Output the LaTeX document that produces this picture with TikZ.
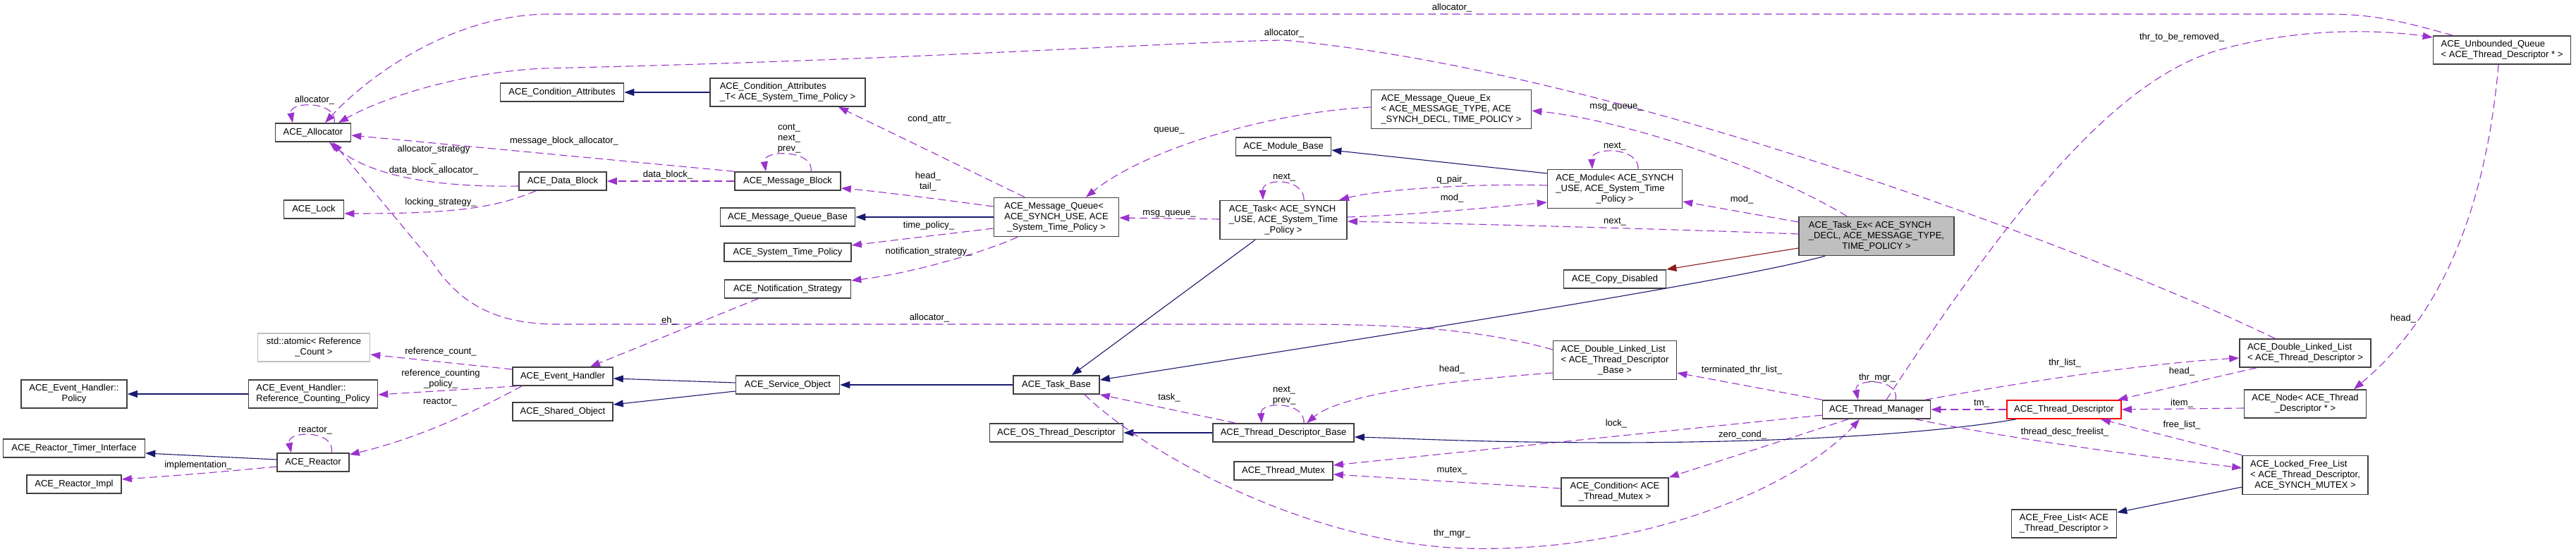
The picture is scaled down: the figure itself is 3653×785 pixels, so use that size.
\documentclass[tikz,border=0pt]{standalone}
\usepackage{fontspec}
\setmainfont{Liberation Sans}
\usetikzlibrary{arrows.meta}
\definecolor{purp}{HTML}{9A32CD}
\definecolor{navyb}{HTML}{191970}
\definecolor{dred}{HTML}{8B1A1A}
\definecolor{boxgray}{HTML}{404040}
\definecolor{fillgray}{HTML}{BFBFBF}
\newcommand{\dxfont}{\fontsize{13}{15}\selectfont}
\newcommand{\twol}[2]{\begin{tabular}{@{}l@{}}#1\\\multicolumn{1}{@{}c@{}}{#2}\end{tabular}}
\newcommand{\threel}[3]{\begin{tabular}{@{}l@{}}#1\\#2\\\multicolumn{1}{@{}c@{}}{#3}\end{tabular}}
\tikzset{
  cls/.style={draw=boxgray, line width=1.6pt, fill=white, font=\dxfont, inner xsep=6pt, inner ysep=2pt, minimum height=26pt},
  cls2/.style={cls, minimum height=40pt},
  cls3/.style={cls, minimum height=55pt},
  lbl/.style={font=\dxfont, inner sep=0pt, align=center},
  dep/.style={-{Triangle[length=14pt,width=10pt,fill=purp]}, draw=purp, line width=1.1pt, dash pattern=on 11pt off 6pt},
  inh/.style={-{Triangle[length=14pt,width=10pt,fill=navyb]}, draw=navyb, line width=1.1pt},
  priv/.style={-{Triangle[length=14pt,width=10pt,fill=dred]}, draw=dred, line width=1.1pt}
}
\begin{document}
\begin{tikzpicture}[x=1pt, y=-1pt]
\fill[white] (0,0) rectangle (3653,785);
\useasboundingbox (0,0) rectangle (3653,785);

% nodes
\node[cls, minimum width=107pt] (alloc) at (444,188) {ACE\_Allocator};
\node[cls, minimum width=85pt] (lock) at (445,297) {ACE\_Lock};
\node[cls, minimum width=175pt] (condattr) at (797,131) {ACE\_Condition\_Attributes};
\node[cls2, minimum width=220pt] (condattrT) at (1117,131) {\twol{ACE\_Condition\_Attributes}{\_T< ACE\_System\_Time\_Policy >}};
\node[cls, minimum width=124pt] (datablock) at (798,257) {ACE\_Data\_Block};
\node[cls, minimum width=150pt] (msgblock) at (1117,257) {ACE\_Message\_Block};
\node[cls, minimum width=191pt] (mqbase) at (1117,308) {ACE\_Message\_Queue\_Base};
\node[cls, minimum width=180pt] (stp) at (1117,358) {ACE\_System\_Time\_Policy};
\node[cls, minimum width=179pt] (notif) at (1117,410) {ACE\_Notification\_Strategy};
\node[cls3, minimum width=177pt] (mq) at (1498,308) {\threel{ACE\_Message\_Queue<}{ ACE\_SYNCH\_USE, ACE}{\_System\_Time\_Policy >}};
\node[cls3, minimum width=180pt] (task) at (1820,312) {\threel{ACE\_Task< ACE\_SYNCH}{\_USE, ACE\_System\_Time}{\_Policy >}};
\node[cls, minimum width=135pt] (modbase) at (1820,208) {ACE\_Module\_Base};
\node[cls3, minimum width=227pt] (mqex) at (2058,155) {\threel{ACE\_Message\_Queue\_Ex}{< ACE\_MESSAGE\_TYPE, ACE}{\_SYNCH\_DECL, TIME\_POLICY >}};
\node[cls3, minimum width=191pt] (module) at (2290,268) {\threel{ACE\_Module< ACE\_SYNCH}{\_USE, ACE\_System\_Time}{\_Policy >}};
\node[cls, minimum width=145pt] (copydis) at (2290,396) {ACE\_Copy\_Disabled};
\node[cls3, minimum width=220pt, fill=fillgray] (taskex) at (2661,335) {\threel{ACE\_Task\_Ex< ACE\_SYNCH}{\_DECL, ACE\_MESSAGE\_TYPE,}{TIME\_POLICY >}};
\node[cls2, minimum width=195pt] (uq) at (3548,71) {\twol{ACE\_Unbounded\_Queue}{< ACE\_Thread\_Descriptor * >}};
\node[cls2, minimum width=159pt, draw=fillgray] (atomic) at (445,493) {\twol{std::atomic< Reference}{\_Count >}};
\node[cls2, minimum width=150pt] (ehpolicy) at (105,559) {\twol{ACE\_Event\_Handler::}{Policy}};
\node[cls2, minimum width=183pt] (rcpolicy) at (444,559) {\twol{ACE\_Event\_Handler::}{Reference\_Counting\_Policy}};
\node[cls, minimum width=201pt] (rti) at (105,636) {ACE\_Reactor\_Timer\_Interface};
\node[cls, minimum width=102pt] (reactor) at (444,656) {ACE\_Reactor};
\node[cls, minimum width=134pt] (rimpl) at (105,687) {ACE\_Reactor\_Impl};
\node[cls, minimum width=142pt] (eh) at (798,534) {ACE\_Event\_Handler};
\node[cls, minimum width=142pt] (shared) at (798,584) {ACE\_Shared\_Object};
\node[cls, minimum width=147pt] (svcobj) at (1117,546) {ACE\_Service\_Object};
\node[cls, minimum width=122pt] (taskbase) at (1498,546) {ACE\_Task\_Base};
\node[cls, minimum width=189pt] (ostd) at (1498,614) {ACE\_OS\_Thread\_Descriptor};
\node[cls, minimum width=200pt] (tdb) at (1820,614) {ACE\_Thread\_Descriptor\_Base};
\node[cls, minimum width=140pt] (mutex) at (1820,668) {ACE\_Thread\_Mutex};
\node[cls3, minimum width=175pt] (dlltdb) at (2290,511) {\threel{ACE\_Double\_Linked\_List}{< ACE\_Thread\_Descriptor}{\_Base >}};
\node[cls2, minimum width=152pt] (cond) at (2290,698) {\twol{ACE\_Condition< ACE}{\_Thread\_Mutex >}};
\node[cls, minimum width=153pt] (thrmgr) at (2661,581) {ACE\_Thread\_Manager};
\node[cls, minimum width=162pt, draw=red] (td) at (2927,581) {ACE\_Thread\_Descriptor};
\node[cls2, minimum width=149pt] (freelist) at (2927,743) {\twol{ACE\_Free\_List< ACE}{\_Thread\_Descriptor >}};
\node[cls2, minimum width=186pt] (dlltd) at (3269,501) {\twol{ACE\_Double\_Linked\_List}{< ACE\_Thread\_Descriptor >}};
\node[cls2, minimum width=173pt] (acenode) at (3269,573) {\twol{ACE\_Node< ACE\_Thread}{\_Descriptor * >}};
\node[cls3, minimum width=178pt] (lfl) at (3269,674) {\threel{ACE\_Locked\_Free\_List}{< ACE\_Thread\_Descriptor,}{ACE\_SYNCH\_MUTEX >}};

% edges
\draw[dep] (uq.north -| 3478,0) .. controls (3400,28) and (3360,20) .. (3300,20) -- (780,20) .. controls (640,20) and (520,110) .. (alloc.north -| 461,0);
\draw[dep] (dlltd.north -| 3226,0) .. controls (3000,370) and (2300,100) .. (1820,57) .. controls (1650,60) and (1300,85) .. (770,97) .. controls (650,103) and (540,140) .. (alloc.north -| 480,0);
\draw[dep] (dlltdb.west |- 0,496) .. controls (2080,462) and (1950,460) .. (1820,460) -- (790,460) .. controls (690,460) and (645,420) .. (613,372) -- (alloc.south -| 472,0);
\draw[dep] (alloc.north -| 474,0) .. controls (480,143) and (409,143) .. (alloc.north -| 415,0);
\draw[dep] (datablock.west |- 0,264) .. controls (600,266) and (520,245) .. (alloc.south -| 467,0);
\draw[dep] (datablock.south -| 760,0) .. controls (700,296) and (640,303) .. (lock.east |- 0,303);
\draw[dep] (msgblock.north west) -- (alloc.east |- 0,192);
\draw[dep] (msgblock.west) -- (datablock.east);
\draw[dep] (msgblock.north -| 1150,0) .. controls (1155,212) and (1081,212) .. (msgblock.north -| 1086,0);
\draw[inh] (condattrT.west) -- (condattr.east);
\draw[dep] (mq.north -| 1453,0) -- (condattrT.south -| 1189,0);
\draw[dep] (mq.west |- 0,293) .. controls (1350,285) and (1250,272) .. (msgblock.east |- 0,267);
\draw[inh] (mq.west) -- (mqbase.east);
\draw[dep] (mq.west |- 0,324) -- (stp.east |- 0,348);
\draw[dep] (mq.south -| 1443,0) .. controls (1390,360) and (1290,388) .. (notif.east |- 0,398);
\draw[dep] (task.west |- 0,311) -- (mq.east |- 0,309);
\draw[dep] (mqex.west |- 0,152) .. controls (1790,160) and (1620,215) .. (mq.north -| 1540,0);
\draw[inh] (task.south -| 1780,0) -- (taskbase.north -| 1520,0);
\draw[inh] (module.west |- 0,246) -- (modbase.east |- 0,213);
\draw[dep] (module.west |- 0,263) .. controls (2100,260) and (1960,268) .. (task.north -| 1899,0);
\draw[dep] (task.east |- 0,308) .. controls (2000,305) and (2120,294) .. (module.west |- 0,287);
\draw[dep] (task.north -| 1849,0) .. controls (1850,252) and (1790,252) .. (task.north -| 1791,0);
\draw[dep] (module.north -| 2323,0) .. controls (2325,208) and (2256,208) .. (module.north -| 2258,0);
\draw[dep] (taskex.west |- 0,332) .. controls (2400,326) and (2100,318) .. (task.east |- 0,314);
\draw[dep] (taskex.west |- 0,315) -- (module.east |- 0,286);
\draw[dep] (taskex.north -| 2619,0) .. controls (2500,235) and (2300,170) .. (mqex.east |- 0,157);
\draw[priv] (taskex.west |- 0,352) -- (copydis.north east);
\draw[inh] (taskex.south -| 2588,0) .. controls (2450,400) and (2000,470) .. (taskbase.east |- 0,539);
\draw[dep] (thrmgr.north -| 2675,0) .. controls (2850,300) and (3000,110) .. (3150,70) .. controls (3250,42) and (3360,40) .. (uq.west |- 0,53);
\draw[dep] (uq.south -| 3543,0) .. controls (3525,300) and (3460,450) .. (acenode.north -| 3338,0);
\draw[dep] (eh.west |- 0,524) -- (atomic.east |- 0,503);
\draw[dep] (eh.south -| 733,0) -- (rcpolicy.east |- 0,560);
\draw[dep] (eh.south -| 740,0) .. controls (680,580) and (600,620) .. (reactor.east |- 0,645);
\draw[inh] (rcpolicy.west) -- (ehpolicy.east);
\draw[inh] (reactor.west |- 0,652) -- (rti.east |- 0,643);
\draw[dep] (reactor.west |- 0,662) .. controls (330,668) and (250,675) .. (rimpl.east |- 0,680);
\draw[dep] (reactor.north -| 470,0) .. controls (477,610) and (406,610) .. (reactor.north -| 413,0);
\draw[inh] (svcobj.west |- 0,543) -- (eh.east |- 0,537);
\draw[inh] (svcobj.west |- 0,555) -- (shared.east |- 0,574);
\draw[dep] (notif.south -| 1075,0) -- (eh.north -| 837,0);
\draw[inh] (taskbase.west) -- (svcobj.east);
\draw[dep] (tdb.north -| 1752,0) -- (taskbase.south east);
\draw[inh] (tdb.west) -- (ostd.east);
\draw[dep] (tdb.north -| 1849,0) .. controls (1851,569) and (1787,569) .. (tdb.north -| 1789,0);
\draw[dep] (dlltdb.west |- 0,529) .. controls (2050,540) and (1900,560) .. (tdb.north -| 1853,0);
\draw[dep] (taskbase.south -| 1538,0) .. controls (1620,640) and (1850,770) .. (2077,778) .. controls (2350,785) and (2560,680) .. (thrmgr.south -| 2637,0);
\draw[dep] (thrmgr.north -| 2688,0) .. controls (2695,536) and (2628,536) .. (thrmgr.north -| 2635,0);
\draw[dep] (thrmgr.west |- 0,589) -- (mutex.east |- 0,660);
\draw[dep] (thrmgr.south -| 2621,0) -- (cond.north east);
\draw[dep] (thrmgr.north west) -- (dlltdb.east |- 0,529);
\draw[inh] (td.south -| 2859,0) .. controls (2740,615) and (2550,627) .. (2300,628) .. controls (2100,628) and (2000,622) .. (tdb.east |- 0,620);
\draw[dep] (td.west) -- (thrmgr.east);
\draw[dep] (thrmgr.north -| 2730,0) .. controls (2880,540) and (3050,515) .. (dlltd.west |- 0,508);
\draw[dep] (thrmgr.south -| 2716,0) .. controls (2880,628) and (3050,648) .. (lfl.west |- 0,664);
\draw[inh] (lfl.west |- 0,691) -- (freelist.east |- 0,727);
\draw[dep] (dlltd.south -| 3200,0) -- (td.north -| 3003,0);
\draw[dep] (acenode.west |- 0,579) -- (td.east |- 0,581);
\draw[dep] (lfl.north west) -- (td.south -| 2979,0);
\draw[dep] (cond.west |- 0,693) -- (mutex.east |- 0,673);

% labels
\node[lbl] (L1) at (2059,11) {allocator\_};
\node[lbl] (L2) at (1821,47) {allocator\_};
\node[lbl] (L3) at (1318,451) {allocator\_};
\node[lbl] (L4) at (446,142) {allocator\_};
\node[lbl] (L5) at (800,200) {message\_block\_allocator\_};
\node[lbl] (L6) at (615,227) {allocator\_strategy\\\_\\data\_block\_allocator\_};
\node[lbl] (L7) at (625,287) {locking\_strategy\_};
\node[lbl] (L8) at (947,248) {data\_block\_};
\node[lbl] (L9) at (1119,197) {cont\_\\next\_\\prev\_};
\node[lbl] (L10) at (1318,169) {cond\_attr\_};
\node[lbl] (L11) at (1658,185) {queue\_};
\node[lbl] (L12) at (1316,258) {head\_\\tail\_};
\node[lbl] (L13) at (1317,320) {time\_policy\_};
\node[lbl] (L14) at (1317,357) {notification\_strategy\_};
\node[lbl] (L15) at (1658,303) {msg\_queue\_};
\node[lbl] (L16) at (2059,255) {q\_pair\_};
\node[lbl] (L17) at (2059,281) {mod\_};
\node[lbl] (L18) at (1821,252) {next\_};
\node[lbl] (L19) at (2290,208) {next\_};
\node[lbl] (L20) at (2290,315) {next\_};
\node[lbl] (L21) at (2470,283) {mod\_};
\node[lbl] (L22) at (2292,152) {msg\_queue\_};
\node[lbl] (L23) at (3094,53) {thr\_to\_be\_removed\_};
\node[lbl] (L24) at (3408,452) {head\_};
\node[lbl] (L25) at (625,499) {reference\_count\_};
\node[lbl] (L26) at (625,538) {reference\_counting\\\_policy\_};
\node[lbl] (L27) at (624,571) {reactor\_};
\node[lbl] (L28) at (281,660) {implementation\_};
\node[lbl] (L29) at (447,611) {reactor\_};
\node[lbl] (L30) at (949,455) {eh\_};
\node[lbl] (L31) at (1658,564) {task\_};
\node[lbl] (L32) at (1821,561) {next\_\\prev\_};
\node[lbl] (L33) at (2059,524) {head\_};
\node[lbl] (L34) at (2059,757) {thr\_mgr\_};
\node[lbl] (L35) at (2662,536) {thr\_mgr\_};
\node[lbl] (L36) at (2292,601) {lock\_};
\node[lbl] (L37) at (2471,617) {zero\_cond\_};
\node[lbl] (L38) at (2470,525) {terminated\_thr\_list\_};
\node[lbl] (L39) at (2810,573) {tm\_};
\node[lbl] (L40) at (2928,515) {thr\_list\_};
\node[lbl] (L41) at (2928,613) {thread\_desc\_freelist\_};
\node[lbl] (L42) at (3094,527) {head\_};
\node[lbl] (L43) at (3094,572) {item\_};
\node[lbl] (L44) at (3094,603) {free\_list\_};
\node[lbl] (L45) at (2059,668) {mutex\_};
\end{tikzpicture}
\end{document}
